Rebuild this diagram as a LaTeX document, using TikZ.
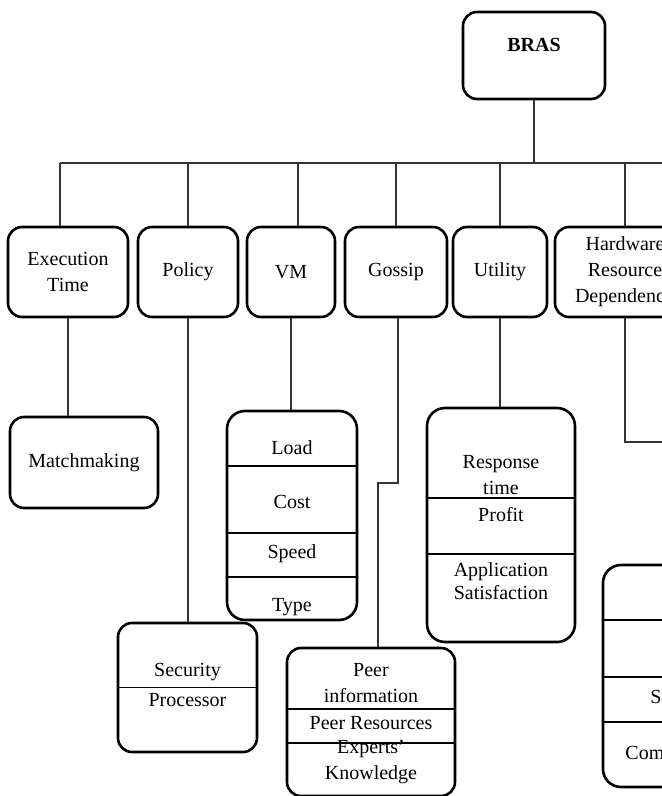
\documentclass[tikz,border=0pt]{standalone}
\usepackage{fontspec}
\setmainfont{Liberation Serif}
\usetikzlibrary{positioning}

\begin{document}
\begin{tikzpicture}[
  x=0.5pt, y=-0.5pt,
  box/.style={draw,rounded corners=7pt,line width=1.3pt,align=center,font=\fontsize{10}{13}\selectfont,inner sep=0pt},
  top/.style={box,minimum height=45pt},
  lbl/.style={align=center,font=\fontsize{10}{13}\selectfont,inner sep=0pt},
  link/.style={line width=0.8pt,draw=black!80},
  sep/.style={line width=0.8pt}]

  \clip (0,0) rectangle (662,796);

  \node[box,minimum width=71pt,minimum height=43.5pt] (bras) at (534,55.5) {};
  \node[lbl,font=\bfseries\fontsize{10}{13}\selectfont] (brast) at (534,45) {BRAS};

  \node[top,minimum width=60pt] (exec) at (68,272) {Execution\\Time};
  \node[top,minimum width=50pt] (pol) at (188,272) {Policy};
  \node[top,minimum width=44pt] (vm) at (291,272) {VM};
  \node[top,minimum width=51pt] (gos) at (396,272) {Gossip};
  \node[top,minimum width=47pt] (util) at (500,272) {Utility};
  \node[top,minimum width=70pt] (hw) at (625,272) {Hardware\\Resource\\Dependency};

  % bus from the root
  \coordinate (busl) at (60,163);
  \coordinate (busr) at (700,163);
  \draw[link] (bras.south) -- (bras.south |- busl);
  \draw[link] (busl) -- (busr);
  \draw[link] (busl) -- (busl |- exec.north);
  \draw[link] (pol.north) -- (pol.north |- busl);
  \draw[link] ([xshift=3.5pt]vm.north) -- ([xshift=3.5pt]vm.north |- busl);
  \draw[link] (gos.north) -- (gos.north |- busl);
  \draw[link] (util.north) -- (util.north |- busl);
  \draw[link] (hw.north) -- (hw.north |- busl);

  % second level
  \node[box,minimum width=74pt,minimum height=45.5pt] (match) at (84,462.5) {Matchmaking};
  \draw[link] (exec.south) -- (exec.south |- match.north);

  \node[box,minimum width=69.5pt,minimum height=64.5pt] (sec) at (187.5,687.5) {};
  \draw[sep] (sec.west) -- (sec.east);
  \node[lbl] (sect) at (187.5,672) {Security};
  \node[lbl] (proct) at (187.5,700) {Processor};
  \draw[link] (pol.south) -- (pol.south |- sec.north);

  \node[box,rounded corners=9pt,minimum width=65pt,minimum height=104.5pt] (vml) at (292,515.5) {};
  \foreach \yy in {466,533,577}
    \draw[sep] (vml.west |- 0,\yy) -- (vml.east |- 0,\yy);
  \node[lbl] (load) at (292,448) {Load};
  \node[lbl] (cost) at (292,502) {Cost};
  \node[lbl] (speed) at (292,554) {Speed};
  \node[lbl] (type) at (292,607) {Type};
  \draw[link] (vm.south) -- (vm.south |- vml.north);

  \node[box,minimum width=84pt,minimum height=74pt] (peer) at (371,722) {};
  \foreach \yy in {709,743}
    \draw[sep] (peer.west |- 0,\yy) -- (peer.east |- 0,\yy);
  \node[lbl] (peeri) at (371,683.5) {Peer\\information};
  \node[lbl] (peerr) at (371,723) {Peer Resources};
  \node[lbl] (expk) at (371,761.5) {Experts'\\Knowledge};
  \draw[link] ([xshift=1pt]gos.south) -- ([xshift=1pt]gos.south |- 0,483) -| ([xshift=3.5pt]peer.north);

  \node[box,rounded corners=9pt,minimum width=74pt,minimum height=117pt] (resp) at (501,525) {};
  \foreach \yy in {498,554}
    \draw[sep] (resp.west |- 0,\yy) -- (resp.east |- 0,\yy);
  \node[lbl] (respt) at (501,475) {Response\\time};
  \node[lbl] (prof) at (501,515) {Profit};
  \node[lbl,font=\fontsize{10}{11.5}\selectfont] (appsat) at (501,581.5) {Application\\Satisfaction};
  \draw[link] (util.south) -- (util.south |- resp.north);

  % hardware branch leaves the page
  \node[box,rounded corners=9pt,minimum width=80pt,minimum height=111pt] (hwl) at (683,676) {};
  \foreach \yy in {620,677,722}
    \draw[sep] (hwl.west |- 0,\yy) -- (hwl.east |- 0,\yy);
  \node[lbl,anchor=west] (hws) at (650,697) {S};
  \node[lbl,anchor=west] (hwc) at (625,753) {Com};
  \coordinate (hwend) at (700,442);
  \draw[link] (hw.south) |- (hwend);

\end{tikzpicture}
\end{document}
